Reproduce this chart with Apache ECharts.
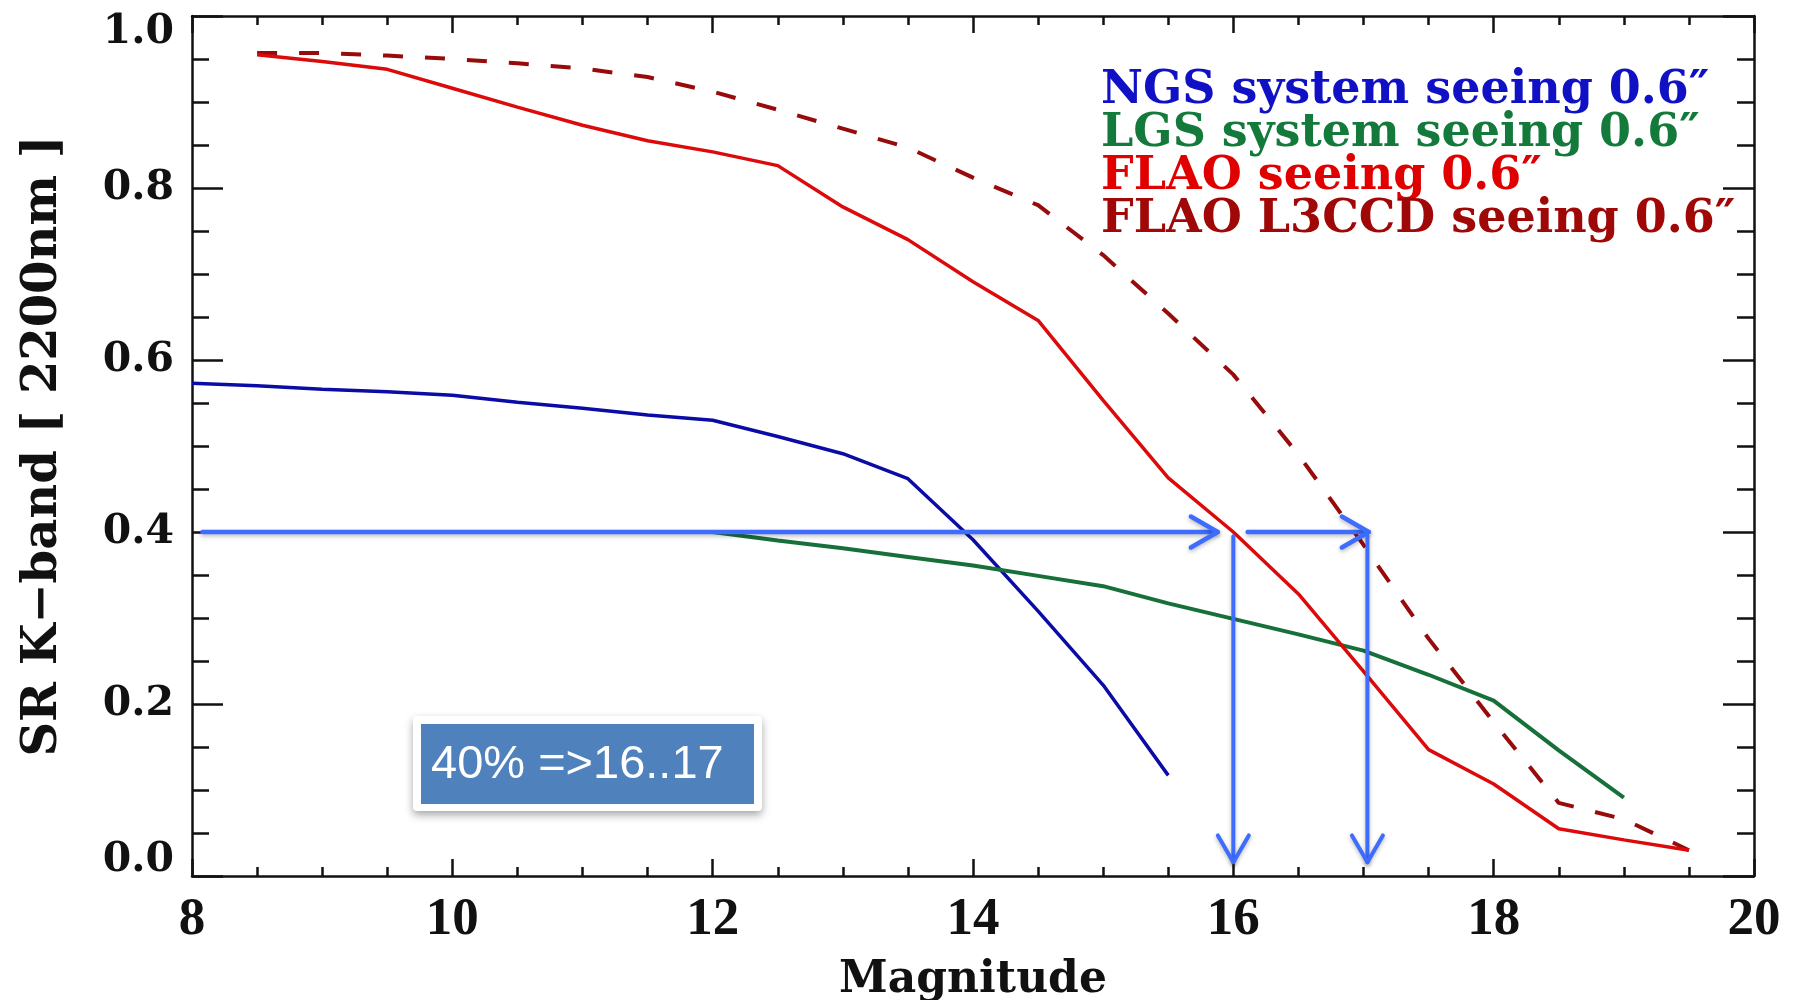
<!DOCTYPE html>
<html>
<head>
<meta charset="utf-8">
<title>SR K-band vs Magnitude</title>
<script src="https://cdn.jsdelivr.net/npm/echarts@6/dist/echarts.min.js"></script>
<style>
  html, body { margin: 0; padding: 0; background: #ffffff; }
  #chart { width: 1795px; height: 1000px; }
</style>
</head>
<body>
<div id="chart"></div>
<script>
// Strehl ratio in K band (2200nm) versus guide star magnitude, seeing 0.6"
const magNGS = [8, 8.5, 9, 9.5, 10, 10.5, 11, 11.5, 12, 12.5, 13, 13.5, 14, 14.5, 15, 15.5];
const srNGS = [0.573, 0.570, 0.566, 0.563, 0.559, 0.551, 0.544, 0.536, 0.530, 0.511, 0.491, 0.462, 0.391, 0.308, 0.222, 0.117];

const magLGS = [10, 10.5, 11, 11.5, 12, 12.5, 13, 13.5, 14, 14.5, 15, 15.5, 16, 16.5, 17, 17.5, 18, 18.5, 19];
const srLGS = [0.400, 0.400, 0.400, 0.400, 0.400, 0.390, 0.381, 0.371, 0.361, 0.349, 0.337, 0.317, 0.299, 0.281, 0.262, 0.234, 0.204, 0.146, 0.091];

const magFLAO = [8.5, 9, 9.5, 10, 10.5, 11, 11.5, 12, 12.5, 13, 13.5, 14, 14.5, 15, 15.5, 16, 16.5, 17, 17.5, 18, 18.5, 19, 19.5];
const srFLAO = [0.955, 0.947, 0.938, 0.916, 0.894, 0.873, 0.855, 0.842, 0.826, 0.778, 0.740, 0.691, 0.646, 0.553, 0.463, 0.400, 0.328, 0.238, 0.147, 0.107, 0.055, 0.042, 0.030];
const srFLAOL3CCD = [0.957, 0.957, 0.954, 0.950, 0.945, 0.939, 0.929, 0.912, 0.891, 0.869, 0.847, 0.812, 0.780, 0.722, 0.654, 0.583, 0.490, 0.385, 0.276, 0.179, 0.085, 0.066, 0.030];

const seriesNames = [
  'NGS system seeing 0.6\u2033',
  'LGS system seeing 0.6\u2033',
  'FLAO seeing 0.6\u2033',
  'FLAO L3CCD seeing 0.6\u2033'
];

// Reading guides for SR = 40%: start [mag, SR] -> end [mag, SR]
const guideStart = [[8.08, 0.4], [16.11, 0.4], [16.0, 0.395], [17.03, 0.395]];
const guideEnd = [[15.88, 0.4], [17.04, 0.4], [16.0, 0.016], [17.03, 0.016]];
const guideWidth = [4.5, 4.5, 4, 4];

const annotationText = '40% =>16..17';

const xTicks = { min: 8, max: 20, step: 2 };
const yTicks = { min: 0, max: 1, step: 0.2 };

function pairs(xs, ys) {
  return xs.map(function (x, i) { return [x, ys[i]]; });
}

const lineColors = ['#0b0ba6', '#177039', '#dc0a0a', '#980b0b'];
const textColors = ['#1010c4', '#137a3b', '#e00000', '#a00808'];

const chart = echarts.init(document.getElementById('chart'), null, { renderer: 'canvas' });

const axisLineStyle = { color: '#111', width: 2.5 };

const xBase = {
  type: 'value',
  min: xTicks.min,
  max: xTicks.max,
  interval: xTicks.step,
  axisLine: { show: true, onZero: false, lineStyle: axisLineStyle },
  axisTick: { show: true, inside: true, length: 17, lineStyle: { color: '#111', width: 2.5 } },
  minorTick: { show: true, splitNumber: 4, length: 9, lineStyle: { color: '#111', width: 2.5 } },
  splitLine: { show: false }
};

const yBase = {
  type: 'value',
  min: yTicks.min,
  max: yTicks.max,
  interval: yTicks.step,
  axisLine: { show: true, onZero: false, lineStyle: axisLineStyle },
  axisTick: { show: true, inside: true, length: 31, lineStyle: { color: '#111', width: 2.5 } },
  minorTick: { show: true, splitNumber: 4, length: 17, lineStyle: { color: '#111', width: 2.5 } },
  splitLine: { show: false }
};

const option = {
  backgroundColor: '#ffffff',
  animation: false,
  grid: { left: 192, right: 41, top: 16, bottom: 124, containLabel: false, outerBoundsMode: 'none' },
  legend: {
    show: true,
    orient: 'vertical',
    left: 1091,
    top: 63,
    itemWidth: 0,
    itemHeight: 0,
    itemGap: -3,
    icon: 'rect',
    selectedMode: false,
    data: seriesNames.map(function (n, i) {
      return { name: n, textStyle: { color: textColors[i] } };
    }),
    textStyle: {
      fontFamily: 'DejaVu Serif',
      fontWeight: 'bold',
      fontSize: 46
    }
  },
  xAxis: [
    Object.assign({}, xBase, {
      position: 'bottom',
      name: 'Magnitude',
      nameLocation: 'middle',
      nameGap: 83,
      nameTextStyle: { fontFamily: 'DejaVu Serif', fontWeight: 'bold', fontSize: 44, color: '#111' },
      axisLabel: {
        show: true,
        margin: 18,
        fontFamily: 'Liberation Serif',
        fontWeight: 'bold',
        fontSize: 53,
        color: '#111',
        formatter: function (v) { return String(v); }
      }
    }),
    Object.assign({}, xBase, {
      position: 'top',
      axisLabel: { show: false }
    })
  ],
  yAxis: [
    Object.assign({}, yBase, {
      position: 'left',
      name: 'SR K\u2212band [ 2200nm ]',
      nameLocation: 'middle',
      nameGap: 124,
      nameRotate: 90,
      nameTextStyle: { fontFamily: 'DejaVu Serif', fontWeight: 'bold', fontSize: 48, color: '#111' },
      axisLabel: {
        show: true,
        margin: 18,
        fontFamily: 'DejaVu Serif',
        fontWeight: 'bold',
        fontSize: 41,
        color: '#111',
        formatter: function (v) {
          const s = v.toFixed(1);
          if (v >= yTicks.max) return '{top|' + s + '}';
          if (v <= yTicks.min) return '{bot|' + s + '}';
          return s;
        },
        rich: {
          top: { padding: [32, 0, 0, 0], fontFamily: 'DejaVu Serif', fontWeight: 'bold', fontSize: 41, color: '#111' },
          bot: { padding: [0, 0, 32, 0], fontFamily: 'DejaVu Serif', fontWeight: 'bold', fontSize: 41, color: '#111' }
        }
      }
    }),
    Object.assign({}, yBase, {
      position: 'right',
      axisLabel: { show: false }
    })
  ],
  series: [
    {
      name: seriesNames[0],
      type: 'line',
      data: pairs(magNGS, srNGS),
      showSymbol: false,
      symbol: 'none',
      lineStyle: { color: lineColors[0], width: 3.5 },
      itemStyle: { color: lineColors[0] },
      z: 3
    },
    {
      name: seriesNames[1],
      type: 'line',
      data: pairs(magLGS, srLGS),
      showSymbol: false,
      symbol: 'none',
      lineStyle: { color: lineColors[1], width: 4 },
      itemStyle: { color: lineColors[1] },
      z: 3
    },
    {
      name: seriesNames[3],
      type: 'line',
      data: pairs(magFLAO, srFLAOL3CCD),
      showSymbol: false,
      symbol: 'none',
      lineStyle: { color: lineColors[3], width: 4, type: [20, 22] },
      itemStyle: { color: lineColors[3] },
      z: 3
    },
    {
      name: seriesNames[2],
      type: 'line',
      data: pairs(magFLAO, srFLAO),
      showSymbol: false,
      symbol: 'none',
      lineStyle: { color: lineColors[2], width: 3.5 },
      itemStyle: { color: lineColors[2] },
      z: 4
    },
    {
      name: 'guides',
      type: 'custom',
      coordinateSystem: 'cartesian2d',
      silent: true,
      z: 10,
      clip: false,
      encode: { x: [0, 2], y: [1, 3] },
      data: guideStart.map(function (s, i) {
        return [s[0], s[1], guideEnd[i][0], guideEnd[i][1], guideWidth[i]];
      }),
      renderItem: function (params, api) {
        const p1 = api.coord([api.value(0), api.value(1)]);
        const p2 = api.coord([api.value(2), api.value(3)]);
        const w = api.value(4);
        const ang = Math.atan2(p2[1] - p1[1], p2[0] - p1[0]);
        const arm = 31;
        const spread = Math.PI / 6;
        const a1 = [p2[0] - arm * Math.cos(ang - spread), p2[1] - arm * Math.sin(ang - spread)];
        const a2 = [p2[0] - arm * Math.cos(ang + spread), p2[1] - arm * Math.sin(ang + spread)];
        const style = {
          stroke: '#3d6cff',
          lineWidth: w,
          fill: null,
          lineCap: 'round',
          lineJoin: 'round',
          shadowColor: 'rgba(0,0,0,0.28)',
          shadowBlur: 4,
          shadowOffsetY: 2
        };
        return {
          type: 'group',
          children: [
            { type: 'line', shape: { x1: p1[0], y1: p1[1], x2: p2[0], y2: p2[1] }, style: style },
            { type: 'polyline', shape: { points: [a1, p2, a2] }, style: style }
          ]
        };
      }
    }
  ],
  graphic: [
    {
      type: 'group',
      left: 413,
      top: 716,
      z: 20,
      children: [
        {
          type: 'rect',
          shape: { x: 0, y: 0, width: 349, height: 95, r: 4 },
          style: {
            fill: '#ffffff',
            shadowColor: 'rgba(0,0,0,0.35)',
            shadowBlur: 8,
            shadowOffsetY: 4
          }
        },
        {
          type: 'rect',
          shape: { x: 8, y: 8, width: 333, height: 80 },
          style: { fill: '#4f81bd' }
        },
        {
          type: 'text',
          x: 18,
          y: 49,
          style: {
            text: annotationText,
            fill: '#ffffff',
            fontFamily: 'Liberation Sans',
            fontSize: 47,
            verticalAlign: 'middle',
            align: 'left'
          }
        }
      ]
    }
  ]
};

chart.setOption(option);
</script>
</body>
</html>
